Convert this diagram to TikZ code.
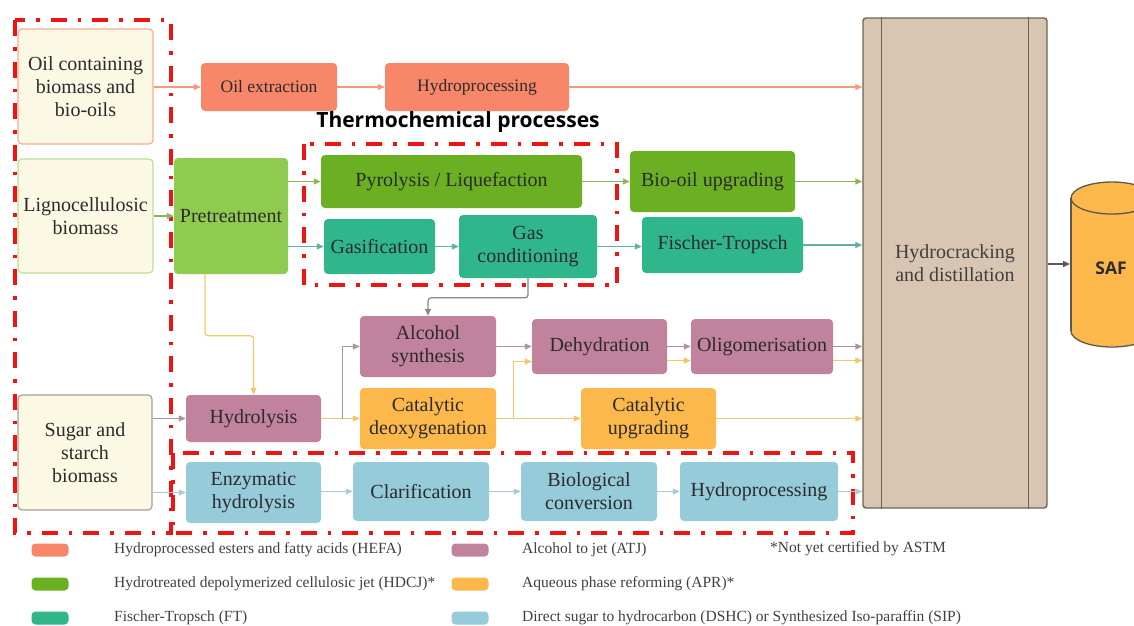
\documentclass[tikz,border=0pt]{standalone}
\usepackage{fontspec}
\setmainfont{Liberation Serif}
\newfontfamily\headfont{Open Sans}
\usetikzlibrary{arrows.meta,calc}

\definecolor{cream}{HTML}{FBF8E4}
\definecolor{hefa}{HTML}{F8876A}
\definecolor{hdcj}{HTML}{6BAF22}
\definecolor{pretr}{HTML}{8FCB4F}
\definecolor{ftc}{HTML}{30B68B}
\definecolor{atj}{HTML}{C1829D}
\definecolor{apr}{HTML}{FDB84C}
\definecolor{dshc}{HTML}{96CBDA}
\definecolor{tan}{HTML}{D8C6B2}
\definecolor{tanline}{HTML}{6E6254}
\definecolor{dashred}{HTML}{EE1414}
\definecolor{txt}{HTML}{2B2B2B}
\definecolor{legtxt}{HTML}{3F3F3F}
% connector colours
\definecolor{aHefa}{HTML}{F59A7C}
\definecolor{aGreen}{HTML}{8CB65E}
\definecolor{aTeal}{HTML}{5FB39A}
\definecolor{aMauve}{HTML}{B4919F}
\definecolor{aOrange}{HTML}{F8C46A}
\definecolor{aBlue}{HTML}{A9CBD3}
\definecolor{aGrey}{HTML}{8E877C}
\definecolor{aDark}{HTML}{5E574E}

\tikzset{
  box/.style={rectangle, rounded corners=4pt, align=center, inner sep=2pt,
    font=\fontsize{20}{23}\selectfont, text=txt},
  smallbox/.style={box, font=\fontsize{17.5}{21}\selectfont},
  source/.style={box, fill=cream, line width=1.2pt},
  arr/.style={-{Triangle[length=7pt,width=6pt]}, line width=1.2pt},
  reddash/.style={draw=dashred, line width=3.8pt,
    dash pattern=on 16pt off 11pt on 3.5pt off 11pt},
  swatch/.style={rectangle, rounded corners=4pt, minimum width=37pt,
    minimum height=13pt, inner sep=0pt},
  legtext/.style={anchor=west, inner sep=0pt, text=legtxt,
    font=\fontsize{15.5}{18}\selectfont},
}

\begin{document}
\begin{tikzpicture}[x=1pt,y=-1pt]
\useasboundingbox (0,0) rectangle (1134,625);
\clip (0,0) rectangle (1134,625);

% ---- feedstocks
\node[source, draw=hefa!70, minimum width=135pt, minimum height=115pt] (oil) at (85.5,86.5) {Oil containing\\biomass and\\bio-oils};
\node[source, draw=pretr!60, minimum width=135pt, minimum height=114pt] (ligno) at (85.5,216) {Lignocellulosic\\biomass};
\node[source, draw=aGrey!80, minimum width=134pt, minimum height=115pt] (sugar) at (85,452.5) {Sugar and\\starch\\biomass};

% ---- HEFA route
\node[smallbox, fill=hefa, minimum width=136pt, minimum height=48pt] (oilx) at (269,87) {Oil extraction};
\node[smallbox, fill=hefa, minimum width=184pt, minimum height=48pt] (hp1) at (477,87) {Hydroprocessing};

% ---- thermochemical routes
\node[box, fill=pretr, minimum width=114pt, minimum height=116pt] (pre) at (231,216) {Pretreatment};
\node[box, fill=hdcj, minimum width=261pt, minimum height=53pt] (pyro) at (451.5,181.5) {Pyrolysis / Liquefaction};
\node[box, fill=ftc, minimum width=111pt, minimum height=55pt] (gas) at (379.5,246.5) {Gasification};
\node[box, fill=ftc, minimum width=138pt, minimum height=63pt] (gcond) at (528,246.5) {Gas\\conditioning};
\node[box, fill=hdcj, minimum width=165pt, minimum height=61pt] (bio) at (712.5,181.5) {Bio-oil upgrading};
\node[box, fill=ftc, minimum width=161pt, minimum height=56pt] (ft) at (722.5,245) {Fischer-Tropsch};

% ---- ATJ / APR routes
\node[box, fill=atj, minimum width=136pt, minimum height=61pt] (alc) at (428,346.5) {Alcohol\\synthesis};
\node[box, fill=atj, minimum width=135pt, minimum height=55pt] (dehyd) at (599.5,346.5) {Dehydration};
\node[box, fill=atj, minimum width=142pt, minimum height=55pt] (olig) at (762,346.5) {Oligomerisation};
\node[box, fill=atj, minimum width=135pt, minimum height=47pt] (hyd) at (253.5,418.5) {Hydrolysis};
\node[box, fill=apr, minimum width=136pt, minimum height=61pt] (cdeo) at (428,418.5) {Catalytic\\deoxygenation};
\node[box, fill=apr, minimum width=135pt, minimum height=61pt] (cupg) at (648.5,418.5) {Catalytic\\upgrading};

% ---- DSHC / SIP route
\node[box, fill=dshc, minimum width=135pt, minimum height=61pt] (enz) at (253.5,492.5) {Enzymatic\\hydrolysis};
\node[box, fill=dshc, minimum width=136pt, minimum height=59pt] (clar) at (421,491.5) {Clarification};
\node[box, fill=dshc, minimum width=136pt, minimum height=59pt] (bioc) at (589,491.5) {Biological\\conversion};
\node[box, fill=dshc, minimum width=158pt, minimum height=59pt] (hp2) at (759,491.5) {Hydroprocessing};

% ---- hydrocracking column
\node[rectangle, rounded corners=3pt, draw=tanline, fill=tan, line width=1.4pt,
      minimum width=184pt, minimum height=490pt, align=center, text=legtxt,
      font=\fontsize{20}{23}\selectfont] (hc) at (955,263) {Hydrocracking\\and distillation};
\draw[tanline, line width=1.2pt] ([xshift=19pt]hc.north west) -- ([xshift=19pt]hc.south west);
\draw[tanline, line width=1.2pt] ([xshift=-19pt]hc.north east) -- ([xshift=-19pt]hc.south east);

% ---- SAF tank
\begin{scope}[line width=1.3pt]
  \draw[aDark, fill=apr] (1112,331) ellipse [x radius=41pt, y radius=16pt];
  \fill[apr] (1071,198) rectangle (1153,331);
  \draw[aDark] (1071,198) -- (1071,331);
  \draw[aDark] (1153,198) -- (1153,331);
  \draw[aDark, fill=apr] (1112,198) ellipse [x radius=41pt, y radius=16pt];
\end{scope}
\node[font=\headfont\bfseries\fontsize{17.5}{20}\selectfont, text=txt] (saf) at (1111,268) {SAF};
\coordinate (safin) at (1070,264);

% ---- process group frames
\node[font=\headfont\bfseries\fontsize{21}{24}\selectfont, text=black] (thermo) at (458,122) {Thermochemical processes};
\draw[reddash] (15,20) rectangle (171,533);
\draw[reddash] (304,144) rectangle (617,285);
\draw[reddash] (173,453) rectangle (853,533);

% ---- connectors: HEFA
\draw[arr, aHefa] (oil.east |- oilx) -- (oilx.west);
\draw[arr, aHefa] (oilx) -- (hp1);
\draw[arr, aHefa] (hp1.east) -- (hp1 -| hc.west);

% ---- connectors: thermochemical
\draw[arr, aGreen] (ligno.east |- pre) -- (pre.west);
\draw[arr, aGreen] (pre.east |- pyro) -- (pyro.west);
\draw[arr, aTeal] (pre.east |- gas) -- (gas.west);
\draw[arr, aGreen] (pyro.east) -- (pyro -| bio.west);
\draw[arr, aGreen] (bio.east |- pyro) -- (pyro -| hc.west);
\draw[arr, aTeal] (gas) -- (gcond);
\draw[arr, aTeal] (gcond.east) -- (gcond -| ft.west);
\draw[arr, aTeal] (ft.east) -- (ft -| hc.west);
\draw[arr, aGrey, rounded corners=3pt] (gcond.south) |- ($(alc.north)+(0,-18)$) -- (alc.north);

% ---- connectors: ATJ / APR
\draw[arr, aOrange, rounded corners=3pt] ([xshift=-26pt]pre.south) |- ($(hyd.north)+(0,-59)$) -- (hyd.north);
\draw[arr, aMauve] (sugar.east |- hyd) -- (hyd.west);
\draw[arr, aOrange] (hyd) -- (cdeo);
\draw[arr, aMauve] ($(hyd.east)+(21,0)$) |- (alc.west);
\draw[arr, aMauve] (alc) -- (dehyd);
\draw[arr, aOrange] (cdeo) -- (cupg);
\draw[arr, aOrange] ($(cdeo.east)+(17,0)$) |- ($(dehyd.west)+(0,15)$);
\draw[arr, aMauve] (dehyd) -- (olig);
\draw[arr, aOrange] ($(dehyd.east)+(0,14)$) -- ($(olig.west)+(0,14)$);
\draw[arr, aMauve] (olig.east) -- (olig -| hc.west);
\draw[arr, aOrange] ($(olig.east)+(0,14)$) -- ($(olig -| hc.west)+(0,14)$);
\draw[arr, aOrange] (cupg.east) -- (cupg -| hc.west);

% ---- connectors: DSHC / SIP
\draw[arr, aBlue] (sugar.east |- enz) -- (enz.west);
\draw[arr, aBlue] (enz.east |- clar) -- (clar.west);
\draw[arr, aBlue] (clar) -- (bioc);
\draw[arr, aBlue] (bioc) -- (hp2);
\draw[arr, aBlue] (hp2.east) -- (hp2 -| hc.west);

% ---- product
\draw[arr, aDark] (hc.east |- safin) -- (safin);

% ---- legend
\node[swatch, fill=hefa] (sw1) at (50,550) {};
\node[legtext] (lt1) at (114,550) {Hydroprocessed esters and fatty acids (HEFA)};
\node[swatch, fill=hdcj] (sw2) at (50,584) {};
\node[legtext] (lt2) at (114,584) {Hydrotreated depolymerized cellulosic jet (HDCJ)*};
\node[swatch, fill=ftc] (sw3) at (50,618) {};
\node[legtext] (lt3) at (114,618) {Fischer-Tropsch (FT)};
\node[swatch, fill=atj] (sw4) at (470,550) {};
\node[legtext] (lt4) at (522,550) {Alcohol to jet (ATJ)};
\node[swatch, fill=apr] (sw5) at (470,584) {};
\node[legtext] (lt5) at (522,584) {Aqueous phase reforming (APR)*};
\node[swatch, fill=dshc] (sw6) at (470,618) {};
\node[legtext] (lt6) at (522,618) {Direct sugar to hydrocarbon (DSHC) or Synthesized Iso-paraffin (SIP)};
\node[legtext] (note) at (770,549) {*Not yet certified by ASTM};
\end{tikzpicture}
\end{document}
